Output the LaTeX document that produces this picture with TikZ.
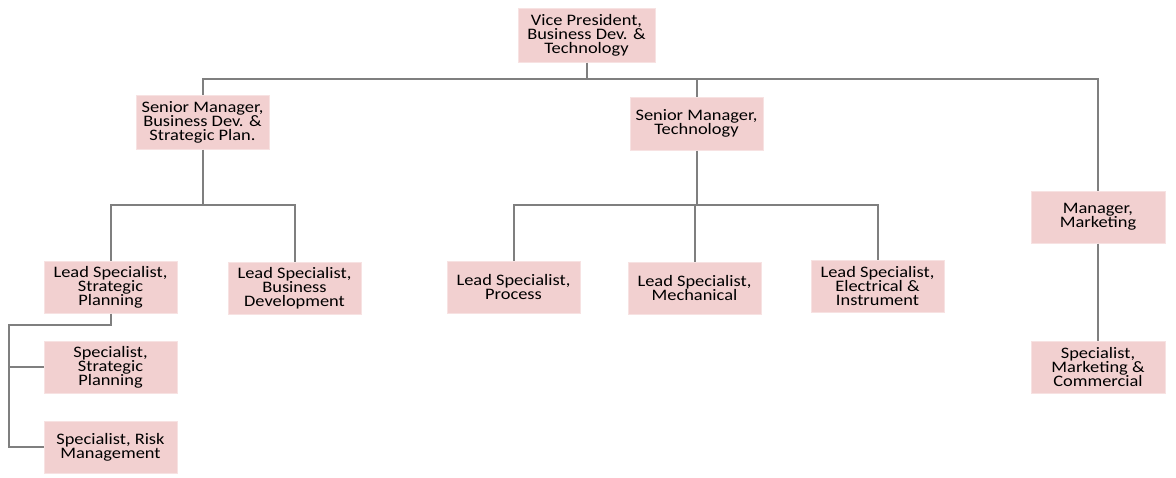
\documentclass[tikz,border=0pt]{standalone}
\usepackage{fontspec}
\setmainfont{Carlito}[FakeStretch=1.15]
\usepackage{tikz}
\usetikzlibrary{positioning}
\definecolor{boxfill}{HTML}{F2D0D0}
\definecolor{boxline}{HTML}{F7E2E2}
\definecolor{linkgray}{HTML}{7F7F7F}
\tikzset{
  post/.style={draw=boxline, line width=1pt, fill=boxfill, minimum width=133pt,
    minimum height=52pt, inner sep=0pt, align=center,
    font=\fontsize{16}{14}\selectfont, text=black},
  link/.style={draw=linkgray, line width=2pt}
}

\begin{document}
\begin{tikzpicture}[x=1pt, y=-1pt]
\useasboundingbox (0,0) rectangle (1176,477);

\node[post, minimum width=137pt, minimum height=54pt] (vp) at (586.5,35) {Vice President,\\Business Dev. \&\\Technology};
\node[post, minimum height=54pt] (smbd) at (202.5,122) {Senior Manager,\\Business Dev. \&\\Strategic Plan.};
\node[post, minimum height=53pt] (smtech) at (696.5,123.5) {Senior Manager,\\Technology};
\node[post, minimum width=134pt] (mgrmkt) at (1098,217) {Manager,\\Marketing};

\node[post] (lssp) at (110.5,287) {Lead Specialist,\\Strategic\\Planning};
\node[post] (lsbd) at (294.5,288) {Lead Specialist,\\Business\\Development};
\node[post] (lsproc) at (513.5,287) {Lead Specialist,\\Process};
\node[post] (lsmech) at (694.5,288) {Lead Specialist,\\Mechanical};
\node[post] (lsei) at (877.5,286) {Lead Specialist,\\Electrical \&\\Instrument};

\node[post] (spsp) at (110.5,367) {Specialist,\\Strategic\\Planning};
\node[post] (sprisk) at (110.5,447) {Specialist, Risk\\Management};
\node[post, minimum width=134pt] (spmc) at (1098,367) {Specialist,\\Marketing \&\\Commercial};

% buses
\coordinate (topbus) at (0,79);
\coordinate (bdbus) at (0,204.5);
\coordinate (techbus) at (0,205);
\coordinate (rail) at (9,325);

\draw[link] (vp.south) -- (vp.south |- topbus) -| (smbd.north);
\draw[link] (vp.south |- topbus) -| (smtech.north);
\draw[link] (vp.south |- topbus) -| (mgrmkt.north);

\draw[link] (smbd.south) -- (smbd.south |- bdbus) -| (lssp.north);
\draw[link] (smbd.south |- bdbus) -| (lsbd.north);

\draw[link] (smtech.south) -- (smtech.south |- techbus) -| (lsproc.north);
\draw[link] (smtech.south |- techbus) -| (lsmech.north);
\draw[link] (smtech.south |- techbus) -| (lsei.north);

\draw[link] (mgrmkt.south) -- (spmc.north);

\draw[link] (lssp.south) |- (rail) |- (sprisk.west);
\draw[link] (rail |- spsp.west) -- (spsp.west);
\end{tikzpicture}
\end{document}
